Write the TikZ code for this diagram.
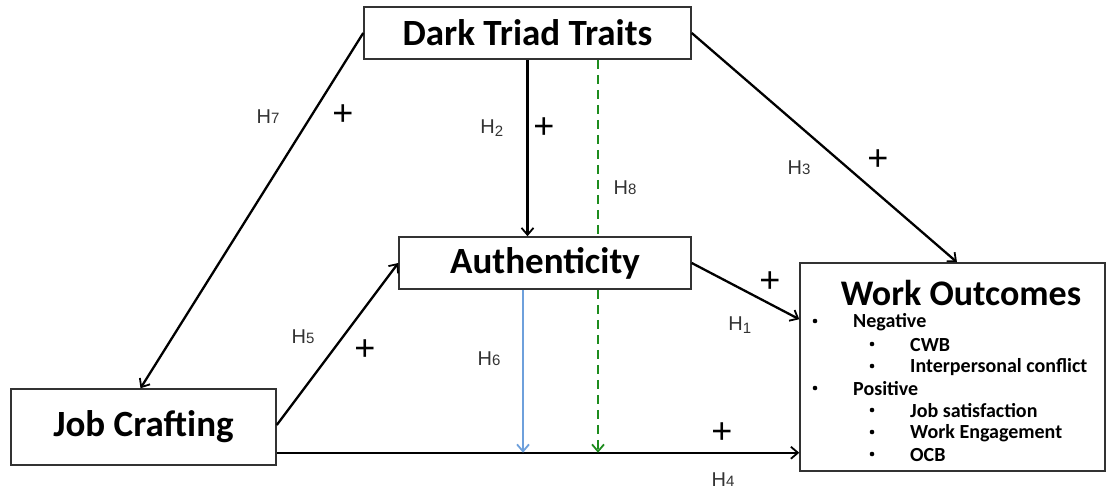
\documentclass[tikz,border=0pt]{standalone}
\usepackage{fontspec}
\setmainfont{Carlito}
\newfontfamily\labfont{Liberation Sans}
\usetikzlibrary{arrows.meta,calc}
\definecolor{boxline}{RGB}{50,50,50}
\definecolor{hblue}{RGB}{110,160,220}
\definecolor{hgreen}{RGB}{30,140,30}
\tikzset{
  box/.style={draw=boxline, line width=1.5pt, fill=white, inner sep=0pt, font=\fontsize{37}{42}\selectfont\bfseries},
  arr/.style={line width=2.3pt, -{Straight Barb[length=7pt,width=12pt,line width=1.8pt]}},
  lab/.style={font=\labfont\fontsize{20}{23}\selectfont, text=black!80, inner sep=0pt},
  plus/.style={font=\labfont\fontsize{36}{38}\selectfont, inner sep=0pt},
  item/.style={font=\fontsize{20}{23}\selectfont\bfseries, anchor=west, inner sep=0pt},
  bul/.style={circle, fill=black, inner sep=0pt, minimum size=4.6pt},
  gdash/.style={draw=hgreen, line width=2pt, dash pattern=on 9pt off 6pt},
}
\newcommand{\Hos}[1]{H{\fontsize{15}{17}\selectfont #1}}
\newcommand{\Hsub}[1]{H$_{\hbox{\labfont\fontsize{15}{17}\selectfont #1}}$}
\begin{document}
\begin{tikzpicture}[x=1pt,y=-1pt]
\useasboundingbox (0,0) rectangle (1108,490);
% boxes
\node[box, minimum width=327pt, minimum height=52pt] (dt) at (527.5,33) {Dark Triad Traits};
\node[box, minimum width=292pt, minimum height=52pt] (au) at (545,263) {Authenticity};
\node[box, minimum width=265pt, minimum height=76pt] (jc) at (143.5,427) {Job Crafting};
\node[box, minimum width=305pt, minimum height=208pt] (wo) at (952.5,367) {};
\node[font=\fontsize{36}{40}\selectfont\bfseries, inner sep=0pt] (wot) at (961,293) {Work Outcomes};
% items
\node[bul] (b1) at (815,321) {};
\node[item] (i1) at (853,322) {Negative};
\node[bul] (b2) at (872,344) {};
\node[item] (i2) at (910,345) {CWB};
\node[bul] (b3) at (872,366) {};
\node[item] (i3) at (910,367) {Interpersonal conflict};
\node[bul] (b4) at (815,388) {};
\node[item] (i4) at (853,389) {Positive};
\node[bul] (b5) at (872,410) {};
\node[item] (i5) at (910,411) {Job satisfaction};
\node[bul] (b6) at (872,432) {};
\node[item] (i6) at (910,433) {Work Engagement};
\node[bul] (b7) at (872,454) {};
\node[item] (i7) at (910,455) {OCB};
% connectors
\coordinate (hl) at ($(jc.south east)+(0,-13)$);
\draw[arr] (dt.west) -- ($(jc.north)+(-3,0)$);
\draw[arr] (dt.east) -- ($(wo.north)+(4.5,0)$);
\draw[arr] (dt.south) -- (dt.south |- au.north);
\draw[arr] (au.east) -- ($(wo.north west)+(0,57)$);
\draw[arr] ($(jc.east)+(0,-2)$) -- (au.west);
\draw[arr] (hl) -- (hl -| wo.west);
\draw[arr, draw=hblue, line width=2pt] ($(au.south)+(-22,0)$) coordinate (bl) -- (bl |- hl);
\coordinate (gr) at ($(dt.south)+(70.5,0)$);
\draw[gdash] (gr) -- (gr |- au.north);
\draw[gdash, arr, line width=2pt] (gr |- au.south) -- (gr |- hl);
% labels
\node[lab] (h7) at (268,117) {\Hos{7}};
\node[plus] (p7) at (343,115) {+};
\node[lab] (h2) at (492,128) {\Hsub{2}};
\node[plus] (p2) at (544,128) {+};
\node[lab] (h8) at (625,188) {\Hos{8}};
\node[lab] (h3) at (799,168) {\Hos{3}};
\node[plus] (p3) at (878,160) {+};
\node[plus] (p1) at (770,282) {+};
\node[lab] (h1) at (740,325) {\Hsub{1}};
\node[lab] (h5) at (303,337) {\Hos{5}};
\node[plus] (p5) at (365,350) {+};
\node[lab] (h6) at (489,359) {\Hos{6}};
\node[plus] (p4) at (722,433) {+};
\node[lab] (h4) at (723,480) {\Hos{4}};
\end{tikzpicture}
\end{document}
